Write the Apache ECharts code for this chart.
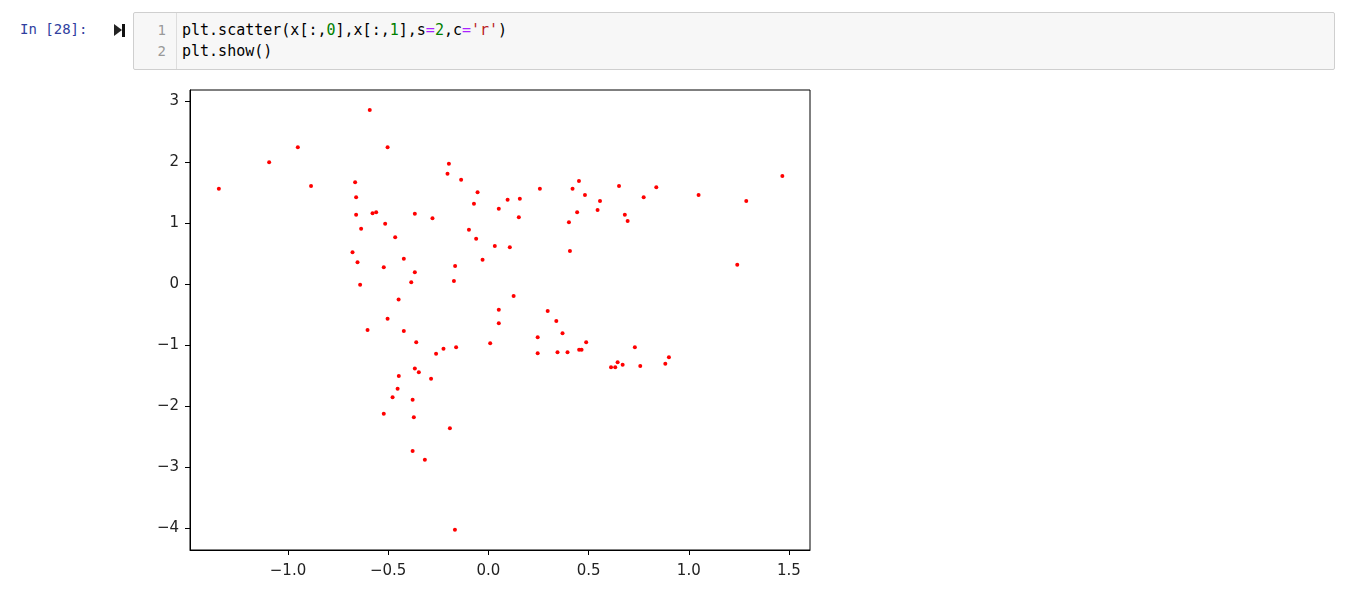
<!DOCTYPE html>
<html>
<head>
<meta charset="utf-8">
<script src="https://cdn.jsdelivr.net/npm/echarts@6/dist/echarts.min.js"></script>
<style>
  body { margin: 0; background: #fff; width: 1346px; height: 603px; overflow: hidden; position: relative; }
  .mono { font-family: "DejaVu Sans Mono", monospace; }
  #prompt { position: absolute; left: 20px; top: 21px; font-size: 14px; color: #303F9F; }
  #runbar { position: absolute; left: 122px; top: 24px; width: 3px; height: 13px; background: #111; }
  #runtri { position: absolute; left: 114px; top: 24px; width: 0; height: 0;
            border-top: 6.5px solid transparent; border-bottom: 6.5px solid transparent; border-left: 8px solid #222; }
  #cell { position: absolute; left: 133px; top: 12px; width: 1200px; height: 56px;
          background: #f7f7f7; border: 1px solid #cfcfcf; border-radius: 2px; }
  #gutter { position: absolute; left: 0; top: 0; width: 42px; height: 56px; border-right: 1px solid #ddd; }
  .ln { position: absolute; right: 10px; font-size: 14px; color: #999; }
  .code { position: absolute; left: 48px; font-size: 15px; color: #000; white-space: pre; }
  .num { color: #008000; }
  .op { color: #AA22FF; }
  .str { color: #BA2121; }
  #chart { position: absolute; left: 140px; top: 80px; width: 700px; height: 520px; }
</style>
</head>
<body>
<div id="prompt" class="mono">In [28]:</div>
<div id="runtri"></div>
<div id="runbar"></div>
<div id="cell">
  <div id="gutter">
    <div class="ln mono" style="top:9px">1</div>
    <div class="ln mono" style="top:30px">2</div>
  </div>
  <div class="code mono" style="top:8px">plt.scatter(x[:,<span class="num">0</span>],x[:,<span class="num">1</span>],s<span class="op">=</span><span class="num">2</span>,c<span class="op">=</span><span class="str">'r'</span>)</div>
  <div class="code mono" style="top:29px">plt.show()</div>
</div>
<div id="chart"></div>

<script>
// x[:,0]
var xValues = [
  -1.345, -1.094, -0.951, -0.885, -0.592, -0.503, -0.665, -0.66, -0.66, -0.578,
  -0.56, -0.635, -0.515, -0.367, -0.279, -0.465, -0.678, -0.653, -0.522, -0.422,
  -0.367, -0.385, -0.64, -0.197, -0.204, -0.136, -0.054, -0.072, -0.097, -0.061,
  -0.166, -0.172, -0.448, -0.029, 0.052, 0.032, 0.096, 0.157, 0.152, 0.107,
  0.126, 0.257, 0.42, 0.452, 0.482, 0.443, 0.402, 0.407, 0.557, 0.545,
  0.652, 0.681, 0.695, 0.775, 0.838, 1.049, 1.287, 1.467, 1.242, -0.503,
  -0.603, -0.422, -0.36, -0.261, -0.224, -0.161, -0.367, -0.347, -0.286, -0.447,
  -0.453, -0.478, -0.378, -0.522, -0.372, -0.192, -0.378, -0.317, -0.167, 0.052,
  0.052, 0.296, 0.339, 0.37, 0.246, 0.246, 0.009, 0.345, 0.395, 0.453,
  0.465, 0.488, 0.731, 0.612, 0.633, 0.645, 0.67, 0.758, 0.883, 0.901
]
// x[:,1]
var yValues = [
  1.562, 1.995, 2.24, 1.607, 2.852, 2.24, 1.667, 1.421, 1.136, 1.159,
  1.175, 0.907, 0.989, 1.153, 1.077, 0.765, 0.52, 0.356, 0.273, 0.415,
  0.191, 0.027, -0.011, 1.973, 1.809, 1.71, 1.503, 1.316, 0.89, 0.743,
  0.295, 0.049, -0.255, 0.398, 1.235, 0.623, 1.382, 1.399, 1.093, 0.601,
  -0.197, 1.563, 1.563, 1.689, 1.459, 1.175, 1.011, 0.541, 1.361, 1.213,
  1.607, 1.136, 1.033, 1.421, 1.585, 1.459, 1.361, 1.77, 0.317, -0.568,
  -0.754, -0.77, -0.956, -1.142, -1.06, -1.038, -1.383, -1.448, -1.552, -1.508,
  -1.716, -1.858, -1.896, -2.126, -2.186, -2.366, -2.738, -2.88, -4.028, -0.421,
  -0.645, -0.443, -0.607, -0.809, -0.874, -1.137, -0.973, -1.12, -1.12, -1.077,
  -1.077, -0.956, -1.038, -1.366, -1.366, -1.284, -1.323, -1.344, -1.307, -1.202
]
var xTicks = [-1.0, -0.5, 0.0, 0.5, 1.0, 1.5]
var yTicks = [-4, -3, -2, -1, 0, 1, 2, 3]

var points = xValues.map(function (v, i) { return [v, yValues[i]] })

function minus(s) {
  return s.replace('-', '\u2212')
}

var chart = echarts.init(document.getElementById('chart'))
chart.setOption({
  animation: false,
  grid: {
    left: 50,
    top: 10,
    width: 620,
    height: 460,
    show: true,
    borderColor: '#000',
    borderWidth: 1,
    backgroundColor: '#fff'
  },
  xAxis: {
    type: 'value',
    min: -1.489,
    max: 1.605,
    axisLine: { show: true, onZero: false, lineStyle: { color: '#000' } },
    splitLine: { show: false },
    axisTick: {
      show: true,
      length: 5,
      customValues: xTicks,
      lineStyle: { color: '#000' }
    },
    axisLabel: {
      customValues: xTicks,
      margin: 14,
      color: '#222',
      fontSize: 15,
      fontFamily: 'DejaVu Sans',
      formatter: function (v) { return minus(v.toFixed(1)) }
    }
  },
  yAxis: {
    type: 'value',
    min: -4.36,
    max: 3.18,
    axisLine: { show: true, onZero: false, lineStyle: { color: '#000' } },
    splitLine: { show: false },
    axisTick: {
      show: true,
      length: 5,
      customValues: yTicks,
      lineStyle: { color: '#000' }
    },
    axisLabel: {
      customValues: yTicks,
      margin: 11,
      color: '#222',
      fontSize: 15,
      fontFamily: 'DejaVu Sans',
      formatter: function (v) { return minus(String(v)) }
    }
  },
  series: [
    {
      type: 'scatter',
      data: points,
      symbolSize: 4,
      silent: true,
      itemStyle: { color: '#ff0000', opacity: 1 }
    }
  ]
})
</script>
</body>
</html>
